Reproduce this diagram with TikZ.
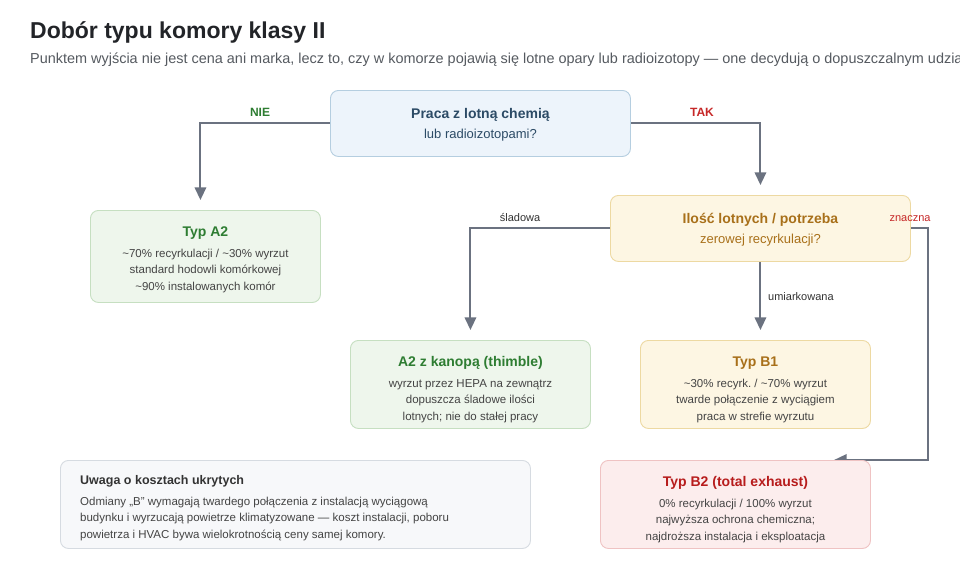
\documentclass[tikz,border=0pt]{standalone}
\usepackage{fontspec}
\setmainfont{Liberation Sans}
\usetikzlibrary{arrows.meta,calc}
\frenchspacing
\definecolor{titlec}{HTML}{222428}
\definecolor{subc}{HTML}{555A60}
\definecolor{arrc}{HTML}{6B7280}
\definecolor{bodyc}{HTML}{444444}
\definecolor{bluef}{HTML}{EDF4FB}
\definecolor{blued}{HTML}{B5CEE0}
\definecolor{bluet}{HTML}{2C4B66}
\definecolor{greenf}{HTML}{EEF6EC}
\definecolor{greend}{HTML}{C6DFC1}
\definecolor{greent}{HTML}{2E7D32}
\definecolor{yelf}{HTML}{FDF6E3}
\definecolor{yeld}{HTML}{EDD9A2}
\definecolor{yelt}{HTML}{A8701A}
\definecolor{redf}{HTML}{FCEDED}
\definecolor{redd}{HTML}{EFC3C3}
\definecolor{redt}{HTML}{B71C1C}
\definecolor{redl}{HTML}{C62828}
\definecolor{notef}{HTML}{F7F8FA}
\definecolor{noted}{HTML}{D6DBE1}
\definecolor{notet}{HTML}{333333}
\pgfdeclarelayer{back}
\pgfdeclarelayer{bg}
\pgfsetlayers{back,bg,main}
\begin{document}
\begin{tikzpicture}[x=1pt,y=-1pt,
  box/.style={rounded corners=8pt, line width=0.9pt, inner sep=0pt, anchor=north west},
  bluebox/.style={box, fill=bluef, draw=blued},
  greenbox/.style={box, fill=greenf, draw=greend},
  yelbox/.style={box, fill=yelf, draw=yeld},
  redbox/.style={box, fill=redf, draw=redd},
  notebox/.style={box, fill=notef, draw=noted},
  qtitle/.style={anchor=base, inner sep=0pt, font=\fontsize{14}{16}\selectfont\bfseries},
  qsub/.style={anchor=base, inner sep=0pt, font=\fontsize{13}{15}\selectfont},
  rtitle/.style={anchor=base, inner sep=0pt, font=\fontsize{14}{17}\selectfont\bfseries},
  rbody/.style={anchor=base, inner sep=0pt, text=bodyc, font=\fontsize{11.5}{13}\selectfont},
  lbl/.style={anchor=base, inner sep=0pt, font=\fontsize{11}{13}\selectfont},
  blbl/.style={anchor=base, inner sep=0pt, font=\fontsize{12}{14}\selectfont\bfseries},
  arr/.style={draw=arrc, line width=2pt, -{Triangle[length=12.7pt,width=11.5pt]}},
]
\begin{pgfonlayer}{back}
\fill[white] (0,0) rectangle (960,560);
\end{pgfonlayer}
\useasboundingbox (0,0) rectangle (960,560);

% header
\node[anchor=base west, inner sep=0pt, text=titlec, font=\fontsize{23}{27}\selectfont\bfseries] (title) at (30,38.5) {Dobór typu komory klasy II};
\node[anchor=base west, inner sep=0pt, text=subc, font=\fontsize{14.45}{17}\selectfont] (sub) at (30,63) {Punktem wyjścia nie jest cena ani marka, lecz to, czy w komorze pojawią się lotne opary lub radioizotopy — one decydują o dopuszczalnym udziale recyrkulacji.};

% boxes
\node[bluebox, minimum width=300pt, minimum height=66pt] (q1) at (330,90) {};
\node[qtitle, text=bluet] (q1a) at ($(q1.north)+(0,28.3)$) {Praca z lotną chemią};
\node[qsub, text=bluet] (q1b) at ($(q1.north)+(0,48.5)$) {lub radioizotopami?};

\node[yelbox, minimum width=300pt, minimum height=66pt] (q2) at (610,195) {};
\node[qtitle, text=yelt] (q2a) at ($(q2.north)+(0,28.3)$) {Ilość lotnych / potrzeba};
\node[qsub, text=yelt] (q2b) at ($(q2.north)+(0,48.5)$) {zerowej recyrkulacji?};

\node[greenbox, minimum width=230pt, minimum height=92pt] (a2) at (90,210) {};
\node[rtitle, text=greent] (a2a) at ($(a2.north)+(0,26)$) {Typ A2};
\node[rbody] (a2b) at ($(a2.north)+(0,47.2)$) {\textasciitilde70\% recyrkulacji / \textasciitilde30\% wyrzut};
\node[rbody] (a2c) at ($(a2.north)+(0,63.9)$) {standard hodowli komórkowej};
\node[rbody] (a2d) at ($(a2.north)+(0,80.6)$) {\textasciitilde90\% instalowanych komór};

\node[greenbox, minimum width=240pt, minimum height=88pt] (th) at (350,340) {};
\node[rtitle, text=greent] (tha) at ($(th.north)+(0,26)$) {A2 z kanopą (thimble)};
\node[rbody] (thb) at ($(th.north)+(0,47)$) {wyrzut przez HEPA na zewnątrz};
\node[rbody] (thc) at ($(th.north)+(0,63.7)$) {dopuszcza śladowe ilości};
\node[rbody] (thd) at ($(th.north)+(0,80.4)$) {lotnych; nie do stałej pracy};

\node[yelbox, minimum width=230pt, minimum height=88pt] (b1) at (640,340) {};
\node[rtitle, text=yelt] (b1a) at ($(b1.north)+(0,26)$) {Typ B1};
\node[rbody] (b1b) at ($(b1.north)+(0,47)$) {\textasciitilde30\% recyrk. / \textasciitilde70\% wyrzut};
\node[rbody] (b1c) at ($(b1.north)+(0,63.7)$) {twarde połączenie z wyciągiem};
\node[rbody] (b1d) at ($(b1.north)+(0,80.4)$) {praca w strefie wyrzutu};

\node[redbox, minimum width=270pt, minimum height=88pt] (b2) at (600,460) {};
\node[rtitle, text=redt] (b2a) at ($(b2.north)+(0,26.5)$) {Typ B2 (total exhaust)};
\node[rbody] (b2b) at ($(b2.north)+(0,47)$) {0\% recyrkulacji / 100\% wyrzut};
\node[rbody] (b2c) at ($(b2.north)+(0,63.7)$) {najwyższa ochrona chemiczna;};
\node[rbody] (b2d) at ($(b2.north)+(0,80.4)$) {najdroższa instalacja i eksploatacja};

\node[notebox, minimum width=470pt, minimum height=88pt] (note) at (60,460) {};
\node[anchor=base west, inner sep=0pt, text=notet, font=\fontsize{12.5}{15}\selectfont\bfseries] (notea) at ($(note.north west)+(20,24.5)$) {Uwaga o kosztach ukrytych};
\node[rbody, anchor=base west] (noteb) at ($(note.north west)+(20,45)$) {Odmiany „B” wymagają twardego połączenia z instalacją wyciągową};
\node[rbody, anchor=base west] (notec) at ($(note.north west)+(20,61.7)$) {budynku i wyrzucają powietrze klimatyzowane — koszt instalacji, poboru};
\node[rbody, anchor=base west] (noted) at ($(note.north west)+(20,78.4)$) {powietrza i HVAC bywa wielokrotnością ceny samej komory.};

% connector helpers
\coordinate (zc) at (928,460);
\coordinate (b2tip) at (834,460);

% connectors
\begin{pgfonlayer}{bg}
\draw[arr, shorten >=10pt] (q1.west) -| ([xshift=-5pt]a2.north);
\draw[arr, shorten >=10pt] (q1.east) -| (q2.north);
\draw[arr, shorten >=10pt] (q2.west) -| (th.north);
\draw[arr, shorten >=10pt] (q2.south) -- (q2.south |- b1.north);
\draw[arr] (q2.east) -| (zc) -- (b2tip);
\end{pgfonlayer}

% connector labels
\node[blbl, text=greent] (lnie) at (260,116.5) {NIE};
\node[blbl, text=redl] (ltak) at (702,116.5) {TAK};
\node[lbl, text=notet] (lsl) at (520,221) {śladowa};
\node[lbl, text=notet, anchor=base west] (lum) at (768,300) {umiarkowana};
\node[lbl, text=redl] (lzn) at (910,221) {znaczna};
\end{tikzpicture}
\end{document}
